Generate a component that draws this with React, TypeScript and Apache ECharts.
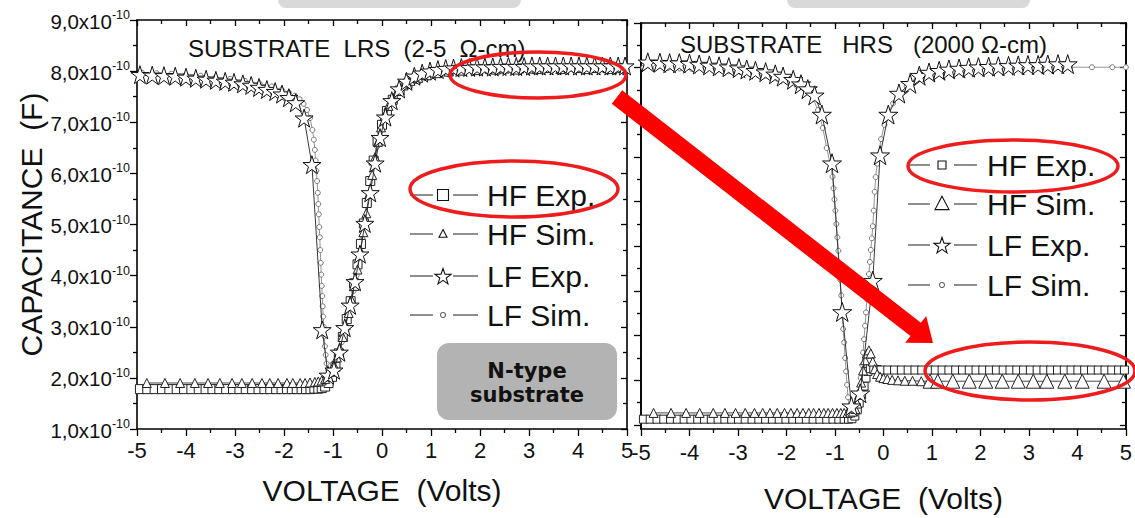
import React, { useEffect, useRef } from 'react';
import * as echarts from 'echarts';

const FONT = '"Liberation Sans", Arial, Helvetica, sans-serif';

// ---------- tick / label data ----------
const leftTitle = 'SUBSTRATE  LRS  (2-5  Ω-cm)';
const rightTitle = 'SUBSTRATE   HRS   (2000 Ω-cm)';
const legendNames = ['HF Exp.', 'HF Sim.', 'LF Exp.', 'LF Sim.'];
const legendSymbols = ['square', 'triangle', 'star', 'circle'];
const rightYMajor = [1, 2, 3, 4, 5, 6, 7, 8, 9, 10];
const rightYMinor = [1.5, 2.5, 3.5, 4.5, 5.5, 6.5, 7.5, 8.5, 9.5];

// ---------- LRS (left) data: [Volts, C x1e-10 F] ----------
const lrsHfExp: number[][] = [
  [-4.94, 1.78], [-4.79, 1.78], [-4.64, 1.78], [-4.49, 1.78], [-4.34, 1.78], [-4.19, 1.78], [-4.04, 1.78],
  [-3.89, 1.78], [-3.74, 1.78], [-3.6, 1.78], [-3.46, 1.78], [-3.32, 1.78], [-3.18, 1.78], [-3.04, 1.78],
  [-2.91, 1.78], [-2.78, 1.78], [-2.65, 1.78], [-2.52, 1.78], [-2.4, 1.78], [-2.28, 1.78], [-2.16, 1.78],
  [-2.05, 1.78], [-1.94, 1.78], [-1.84, 1.78], [-1.74, 1.78], [-1.64, 1.78], [-1.55, 1.78], [-1.46, 1.78],
  [-1.38, 1.79], [-1.3, 1.79], [-1.23, 1.8], [-1.16, 1.83], [-1.09, 1.9], [-1.02, 2.02], [-0.95, 2.22],
  [-0.88, 2.48], [-0.8, 2.8], [-0.72, 3.15], [-0.64, 3.5], [-0.57, 3.85], [-0.5, 4.22], [-0.43, 4.62],
  [-0.37, 5.02], [-0.31, 5.42], [-0.24, 5.85], [-0.17, 6.25], [-0.09, 6.62], [0.0, 6.95], [0.1, 7.22],
  [0.22, 7.44], [0.36, 7.62], [0.52, 7.75], [0.7, 7.85], [0.9, 7.92], [1.12, 7.97], [1.36, 8.0],
  [1.62, 8.02], [1.9, 8.03], [2.2, 8.04], [2.5, 8.05], [2.8, 8.05], [3.1, 8.05], [3.4, 8.06], [3.7, 8.06],
  [4.0, 8.06], [4.3, 8.06], [4.6, 8.06], [4.9, 8.06],
];
const lrsHfSim: number[][] = [
  [-4.8, 1.9], [-4.43, 1.9], [-4.12, 1.9], [-3.82, 1.9], [-3.55, 1.9], [-3.31, 1.9], [-3.06, 1.9],
  [-2.86, 1.9], [-2.65, 1.9], [-2.45, 1.9], [-2.29, 1.9], [-2.12, 1.9], [-1.94, 1.9], [-1.82, 1.9],
  [-1.67, 1.9], [-1.57, 1.9], [-1.47, 1.91], [-1.37, 1.92], [-1.3, 1.93], [-1.23, 1.95], [-1.16, 1.98],
  [-1.1, 2.03], [-1.04, 2.12], [-0.98, 2.25], [-0.92, 2.4], [-0.86, 2.58], [-0.8, 2.8], [-0.74, 3.03],
  [-0.68, 3.27], [-0.62, 3.52], [-0.56, 3.8], [-0.5, 4.12], [-0.44, 4.48], [-0.38, 4.85], [-0.32, 5.22],
  [-0.26, 5.6], [-0.2, 5.97], [-0.14, 6.32], [-0.08, 6.62], [-0.02, 6.9], [0.05, 7.12], [0.13, 7.32],
  [0.22, 7.48], [0.32, 7.61], [0.44, 7.72], [0.58, 7.81], [0.74, 7.87], [0.92, 7.92], [1.12, 7.96],
  [1.36, 7.99], [1.64, 8.01], [1.96, 8.02], [2.32, 8.03], [2.72, 8.03], [3.16, 8.04], [3.64, 8.04],
  [4.16, 8.04], [4.7, 8.04],
];
const lrsLfExp: number[][] = [
  [-4.94, 7.93], [-4.69, 7.92], [-4.45, 7.91], [-4.22, 7.9], [-4.0, 7.88], [-3.8, 7.86], [-3.59, 7.84],
  [-3.39, 7.82], [-3.2, 7.8], [-3.02, 7.78], [-2.84, 7.75], [-2.67, 7.72], [-2.51, 7.68], [-2.35, 7.64],
  [-2.18, 7.6], [-2.04, 7.55], [-1.9, 7.48], [-1.76, 7.38], [-1.59, 7.08], [-1.43, 6.17], [-1.22, 2.94],
  [-1.1, 2.05], [-0.98, 2.15], [-0.87, 2.5], [-0.76, 2.98], [-0.65, 3.42], [-0.55, 3.88], [-0.45, 4.42],
  [-0.35, 5.02], [-0.24, 5.62], [-0.14, 6.2], [-0.04, 6.7], [0.07, 7.1], [0.2, 7.42], [0.35, 7.65],
  [0.5, 7.8], [0.66, 7.9], [0.82, 7.96], [0.98, 8.0], [1.14, 8.03], [1.3, 8.05], [1.46, 8.06], [1.62, 8.07],
  [1.78, 8.07], [1.94, 8.08], [2.1, 8.08], [2.26, 8.08], [2.42, 8.09], [2.58, 8.09], [2.74, 8.09],
  [2.9, 8.09], [3.06, 8.1], [3.22, 8.1], [3.38, 8.1], [3.54, 8.1], [3.7, 8.1], [3.86, 8.1], [4.02, 8.1],
  [4.18, 8.1], [4.34, 8.1], [4.5, 8.1], [4.66, 8.1], [4.82, 8.1], [4.96, 8.1],
];
const lrsLfSim: number[][] = [
  [-4.9, 7.97], [-4.6, 7.96], [-4.3, 7.95], [-4.0, 7.93], [-3.7, 7.91], [-3.4, 7.88], [-3.1, 7.85],
  [-2.8, 7.81], [-2.5, 7.76], [-2.25, 7.7], [-2.05, 7.64], [-1.9, 7.58], [-1.78, 7.52], [-1.68, 7.45],
  [-1.6, 7.36], [-1.53, 7.24], [-1.47, 7.08], [-1.42, 6.85], [-1.39, 6.66], [-1.37, 6.46], [-1.355, 6.25],
  [-1.34, 6.05], [-1.325, 5.85], [-1.31, 5.62], [-1.3, 5.4], [-1.29, 5.2], [-1.28, 4.95], [-1.27, 4.75],
  [-1.26, 4.5], [-1.25, 4.25], [-1.24, 4.02], [-1.23, 3.8], [-1.22, 3.6], [-1.21, 3.4], [-1.2, 3.2],
  [-1.19, 3.0], [-1.18, 2.82], [-1.165, 2.62], [-1.15, 2.45], [-1.13, 2.28], [-1.1, 2.15], [-1.06, 2.12],
  [-1.0, 2.15], [-0.94, 2.3], [-0.88, 2.48], [-0.82, 2.7], [-0.76, 2.95], [-0.7, 3.2], [-0.64, 3.45],
  [-0.58, 3.7], [-0.52, 4.0], [-0.46, 4.38], [-0.4, 4.72], [-0.34, 5.1], [-0.28, 5.48], [-0.22, 5.86],
  [-0.16, 6.22], [-0.1, 6.52], [-0.04, 6.8], [0.03, 7.05], [0.11, 7.28], [0.2, 7.46], [0.3, 7.6],
  [0.42, 7.72], [0.56, 7.82], [0.72, 7.89], [0.9, 7.94], [1.1, 7.97], [1.35, 7.99], [1.65, 8.0],
  [2.0, 8.01], [2.4, 8.02], [2.85, 8.02], [3.35, 8.03], [3.9, 8.03], [4.45, 8.03], [5.0, 8.03],
];

// ---------- HRS (right) data: [Volts, C, own scale] ----------
const hrsHfExp: number[][] = [
  [-4.95, 1.13], [-4.81, 1.13], [-4.67, 1.13], [-4.53, 1.13], [-4.39, 1.13], [-4.25, 1.13], [-4.11, 1.13],
  [-3.97, 1.13], [-3.83, 1.13], [-3.69, 1.13], [-3.55, 1.13], [-3.41, 1.13], [-3.27, 1.13], [-3.13, 1.13],
  [-2.99, 1.13], [-2.85, 1.13], [-2.71, 1.13], [-2.57, 1.13], [-2.43, 1.13], [-2.29, 1.13], [-2.15, 1.13],
  [-2.01, 1.13], [-1.87, 1.13], [-1.73, 1.13], [-1.59, 1.13], [-1.45, 1.13], [-1.31, 1.13], [-1.17, 1.13],
  [-1.04, 1.13], [-0.92, 1.13], [-0.81, 1.13], [-0.72, 1.13], [-0.65, 1.14], [-0.59, 1.2], [-0.54, 1.34],
  [-0.5, 1.49], [-0.45, 1.68], [-0.4, 1.87], [-0.36, 2.05], [-0.32, 2.2], [-0.27, 2.26], [-0.2, 2.25],
  [-0.13, 2.24], [-0.05, 2.23], [0.09, 2.23], [0.23, 2.23], [0.37, 2.23], [0.51, 2.23], [0.65, 2.23],
  [0.79, 2.23], [0.93, 2.23], [1.07, 2.23], [1.21, 2.23], [1.35, 2.23], [1.49, 2.23], [1.63, 2.23],
  [1.77, 2.23], [1.91, 2.23], [2.05, 2.23], [2.19, 2.23], [2.33, 2.23], [2.47, 2.23], [2.61, 2.23],
  [2.75, 2.23], [2.89, 2.23], [3.03, 2.23], [3.17, 2.23], [3.31, 2.23], [3.45, 2.23], [3.59, 2.23],
  [3.73, 2.23], [3.87, 2.23], [4.01, 2.23], [4.15, 2.23], [4.29, 2.23], [4.43, 2.23], [4.57, 2.23],
  [4.71, 2.23], [4.85, 2.23], [4.97, 2.23],
];
const hrsHfSim: number[][] = [
  [-4.74, 1.27], [-4.38, 1.27], [-4.07, 1.27], [-3.79, 1.27], [-3.51, 1.27], [-3.27, 1.27], [-3.05, 1.27],
  [-2.85, 1.27], [-2.66, 1.27], [-2.49, 1.27], [-2.34, 1.27], [-2.19, 1.27], [-2.04, 1.27], [-1.91, 1.27],
  [-1.78, 1.27], [-1.66, 1.27], [-1.54, 1.27], [-1.44, 1.27], [-1.33, 1.27], [-1.23, 1.27], [-1.14, 1.27],
  [-1.05, 1.27], [-0.96, 1.27], [-0.88, 1.27], [-0.81, 1.27], [-0.74, 1.27], [-0.68, 1.28], [-0.63, 1.3],
  [-0.58, 1.36], [-0.54, 1.48], [-0.5, 1.68], [-0.46, 1.95], [-0.42, 2.22], [-0.38, 2.45], [-0.34, 2.6],
  [-0.3, 2.67], [-0.26, 2.6], [-0.22, 2.42], [-0.18, 2.25], [-0.13, 2.14], [-0.07, 2.08], [0.0, 2.05],
  [0.08, 2.03], [0.18, 2.01], [0.3, 2.0], [0.44, 1.99], [0.6, 1.99], [0.78, 1.98], [0.96, 1.98],
  [1.12, 1.98], [1.43, 1.98], [1.77, 1.98], [2.11, 1.98], [2.45, 1.98], [2.78, 1.98], [3.09, 1.98],
  [3.37, 1.98], [3.74, 1.98], [4.1, 1.98], [4.55, 1.98], [4.95, 1.98],
];
const hrsLfExp: number[][] = [
  [-4.86, 9.12], [-4.61, 9.11], [-4.41, 9.1], [-4.21, 9.1], [-4.0, 9.09], [-3.8, 9.07], [-3.59, 9.05],
  [-3.39, 9.03], [-3.19, 9.01], [-2.98, 8.99], [-2.82, 8.96], [-2.64, 8.93], [-2.43, 8.9], [-2.23, 8.85],
  [-2.07, 8.8], [-1.86, 8.73], [-1.7, 8.63], [-1.56, 8.52], [-1.42, 8.38], [-1.27, 7.95], [-1.06, 6.86],
  [-0.85, 3.53], [-0.66, 1.42], [-0.48, 1.71], [-0.22, 4.23], [-0.07, 7.04], [0.1, 7.95], [0.32, 8.42],
  [0.55, 8.64], [0.74, 8.82], [0.94, 8.89], [1.15, 8.93], [1.35, 8.96], [1.56, 8.98], [1.76, 9.0],
  [1.96, 9.01], [2.17, 9.02], [2.37, 9.03], [2.58, 9.04], [2.78, 9.05], [2.98, 9.06], [3.19, 9.06],
  [3.39, 9.07], [3.6, 9.08], [3.8, 9.08],
];
const hrsLfSim: number[][] = [
  [-4.95, 9.0], [-4.7, 9.0], [-4.45, 8.99], [-4.2, 8.98], [-3.95, 8.97], [-3.7, 8.96], [-3.45, 8.94],
  [-3.2, 8.92], [-2.95, 8.9], [-2.7, 8.86], [-2.45, 8.82], [-2.2, 8.76], [-1.98, 8.68], [-1.78, 8.58],
  [-1.6, 8.45], [-1.45, 8.3], [-1.35, 8.05], [-1.25, 7.65], [-1.17, 7.2], [-1.1, 6.85], [-1.05, 6.56],
  [-1.03, 6.3], [-1.01, 6.05], [-0.99, 5.8], [-0.97, 5.5], [-0.95, 5.2], [-0.93, 4.9], [-0.91, 4.56],
  [-0.89, 4.25], [-0.87, 3.9], [-0.85, 3.45], [-0.83, 3.15], [-0.81, 2.85], [-0.79, 2.5], [-0.77, 2.2],
  [-0.75, 1.9], [-0.73, 1.62], [-0.71, 1.38], [-0.68, 1.3], [-0.64, 1.27], [-0.6, 1.28], [-0.56, 1.35],
  [-0.53, 1.5], [-0.5, 1.75], [-0.47, 2.05], [-0.44, 2.34], [-0.42, 2.62], [-0.4, 2.92], [-0.38, 3.22],
  [-0.36, 3.52], [-0.34, 3.82], [-0.32, 4.1], [-0.3, 4.38], [-0.28, 4.65], [-0.26, 4.92], [-0.24, 5.18],
  [-0.22, 5.45], [-0.2, 5.8], [-0.18, 6.22], [-0.16, 6.55], [-0.13, 6.85], [-0.1, 7.05], [-0.05, 7.4],
  [0.02, 7.72], [0.1, 7.98], [0.2, 8.2], [0.32, 8.4], [0.48, 8.58], [0.68, 8.72], [0.9, 8.82],
  [1.2, 8.89], [1.55, 8.94], [1.95, 8.97], [2.4, 8.99], [2.9, 9.0], [3.4, 9.01], [3.85, 9.01],
  [4.3, 9.01], [4.72, 9.01], [5.0, 9.01],
];

const STAR = 'path://M50,0 L61.8,36.2 L100,36.2 L69.1,58.8 L80.9,95.1 L50,72.7 L19.1,95.1 L30.9,58.8 L0,36.2 L38.2,36.2 Z';

const axisLineStyle = { color: '#000', width: 1.6 };
const tickLine = { color: '#000', width: 1.3 };

function xAxisPair(gridIndex: number, nameGap: number, labelMargin: number) {
  const base = {
    gridIndex,
    type: 'value',
    min: -5,
    max: 5,
    interval: 1,
    splitLine: { show: false },
    axisLine: { show: true, onZero: false, lineStyle: axisLineStyle },
  };
  return [
    {
      ...base,
      position: 'bottom',
      axisTick: { show: true, inside: false, length: 7, lineStyle: tickLine },
      minorTick: { show: true, splitNumber: 2, length: 4, lineStyle: tickLine },
      axisLabel: { show: true, fontSize: 22, margin: labelMargin, color: '#111', fontFamily: FONT },
      name: 'VOLTAGE  (Volts)',
      nameLocation: 'middle',
      nameGap,
      nameTextStyle: { fontSize: 30, color: '#111', fontFamily: FONT },
    },
    {
      ...base,
      position: 'top',
      axisTick: { show: true, inside: true, length: 6, lineStyle: tickLine },
      minorTick: { show: true, splitNumber: 2, length: 4, lineStyle: tickLine },
      axisLabel: { show: false },
    },
  ];
}

function rightYAxis(position: string, values: number[], length: number, inside: boolean) {
  return {
    gridIndex: 1,
    type: 'value',
    position,
    min: 0.91,
    max: 10,
    splitLine: { show: false },
    axisLine: { show: true, onZero: false, lineStyle: axisLineStyle },
    axisTick: { show: true, inside, length, lineStyle: tickLine, customValues: values },
    axisLabel: { show: false },
  };
}

function lineSeries(
  name: string, data: number[][], grid: number, symbol: string, symbolSize: any,
  stroke: string, lineColor: string, z: number,
) {
  return {
    type: 'line',
    name,
    data,
    xAxisIndex: grid === 0 ? 0 : 2,
    yAxisIndex: grid === 0 ? 0 : 2,
    symbol,
    symbolSize,
    showSymbol: true,
    showAllSymbol: true,
    lineStyle: { color: lineColor, width: 0.9 },
    itemStyle: { color: '#fff', borderColor: stroke, borderWidth: 1 },
    emphasis: { disabled: true },
    silent: true,
    z,
  };
}

function starPoints(cx: number, cy: number, R: number) {
  const pts: number[][] = [];
  for (let k = 0; k < 10; k++) {
    const r = k % 2 === 0 ? R : R * 0.4;
    const a = (-90 + k * 36) * Math.PI / 180;
    pts.push([cx + r * Math.cos(a), cy + r * Math.sin(a)]);
  }
  return pts;
}

// legend drawn as graphic: line - symbol - line  text
function legendGraphic(x0: number, x1: number, symX: number, gap: number, textX: number, rows: number[], sizes: number[]) {
  const els: any[] = [];
  const stroke = { stroke: '#444', lineWidth: 1.2 };
  rows.forEach((cy, i) => {
    const s = sizes[i];
    els.push({ type: 'line', z: 40, shape: { x1: x0, y1: cy, x2: symX - gap, y2: cy }, style: stroke });
    els.push({ type: 'line', z: 40, shape: { x1: symX + gap, y1: cy, x2: x1, y2: cy }, style: stroke });
    const sym = legendSymbols[i];
    const st = { fill: '#fff', stroke: sym === 'circle' ? '#666' : '#111', lineWidth: 1.1 };
    if (sym === 'square') {
      els.push({ type: 'rect', z: 41, shape: { x: symX - s / 2, y: cy - s / 2, width: s, height: s }, style: st });
    } else if (sym === 'triangle') {
      els.push({ type: 'polygon', z: 41, shape: { points: [[symX, cy - s * 0.55], [symX + s / 2, cy + s * 0.4], [symX - s / 2, cy + s * 0.4]] }, style: st });
    } else if (sym === 'star') {
      els.push({ type: 'polygon', z: 41, shape: { points: starPoints(symX, cy + 1, s / 2) }, style: st });
    } else {
      els.push({ type: 'circle', z: 41, shape: { cx: symX, cy, r: s / 2 }, style: st });
    }
    els.push({
      type: 'text', z: 41,
      style: {
        text: legendNames[i], x: textX, y: cy, textVerticalAlign: 'middle', verticalAlign: 'middle',
        fontSize: 30, fontFamily: FONT, fill: '#111',
      },
    });
  });
  return els;
}

const RED = '#ee1c1c';

function buildOption() {
  return {
    animation: false,
    backgroundColor: '#fff',
    title: [
      { text: leftTitle, left: 188, top: 36, padding: 0, textStyle: { fontSize: 24, fontWeight: 'normal', color: '#111', fontFamily: FONT } },
      { text: rightTitle, left: 680, top: 32, padding: 0, textStyle: { fontSize: 24, fontWeight: 'normal', color: '#111', fontFamily: FONT } },
    ],
    grid: [
      { left: 137, top: 20, width: 490, height: 409, containLabel: false },
      { left: 641, top: 23, width: 491, height: 408, containLabel: false },
    ],
    xAxis: [...xAxisPair(0, 46, 10), ...xAxisPair(1, 54, 12)],
    yAxis: [
      {
        gridIndex: 0, type: 'value', position: 'left', min: 1, max: 9, interval: 1,
        splitLine: { show: false },
        axisLine: { show: true, onZero: false, lineStyle: axisLineStyle },
        axisTick: { show: true, inside: false, length: 7, lineStyle: tickLine },
        minorTick: { show: true, splitNumber: 2, length: 4, lineStyle: tickLine },
        axisLabel: {
          show: true, margin: 7,
          formatter: (v: number) => `{m|${v.toFixed(1).replace('.', ',')}x10}{s|-10}`,
          rich: {
            m: { fontSize: 20.5, fontFamily: FONT, color: '#111', lineHeight: 23, verticalAlign: 'bottom' },
            s: { fontSize: 12.5, fontFamily: FONT, color: '#111', lineHeight: 12, verticalAlign: 'top' },
          },
        },
        name: 'CAPACITANCE  (F)',
        nameLocation: 'middle',
        nameGap: 91,
        nameTextStyle: { fontSize: 30, color: '#111', fontFamily: FONT },
      },
      {
        gridIndex: 0, type: 'value', position: 'right', min: 1, max: 9, interval: 1,
        splitLine: { show: false },
        axisLine: { show: true, onZero: false, lineStyle: axisLineStyle },
        axisTick: { show: true, inside: true, length: 6, lineStyle: tickLine },
        minorTick: { show: true, splitNumber: 2, length: 4, lineStyle: tickLine },
        axisLabel: { show: false },
      },
      rightYAxis('left', rightYMajor, 7, false),
      rightYAxis('left', rightYMinor, 4, false),
      rightYAxis('right', rightYMajor, 6, true),
      rightYAxis('right', rightYMinor, 4, true),
    ],
    series: [
      lineSeries('LF Sim.', lrsLfSim, 0, 'circle', 5, '#777', '#888', 2),
      lineSeries('HF Exp.', lrsHfExp, 0, 'rect', 9, '#222', '#444', 3),
      lineSeries('HF Sim.', lrsHfSim, 0, 'triangle', 9, '#222', '#333', 4),
      lineSeries('LF Exp.', lrsLfExp, 0, STAR, 18, '#111', '#222', 5),
      lineSeries('LF Sim.', hrsLfSim, 1, 'circle', 5, '#777', '#888', 2),
      lineSeries('HF Exp.', hrsHfExp, 1, 'rect', 8, '#222', '#444', 3),
      lineSeries('HF Sim.', hrsHfSim, 1, 'triangle', (val: number[]) => (val[0] > 0.9 ? 14 : 9), '#222', '#333', 4),
      lineSeries('LF Exp.', hrsLfExp, 1, STAR, 19, '#111', '#222', 5),
    ],
    graphic: [
      { type: 'rect', shape: { x: 278, y: -10, width: 243, height: 18, r: 8 }, style: { fill: '#d9d9d9' }, z: 1 },
      { type: 'rect', shape: { x: 787, y: -10, width: 243, height: 18, r: 8 }, style: { fill: '#d9d9d9' }, z: 1 },
      ...legendGraphic(410, 478, 443, 10, 487, [195, 234, 276, 315], [11, 8, 17, 5]),
      ...legendGraphic(908, 977, 942, 12, 987, [165, 204, 245, 285], [8, 14, 17, 5]),
      { type: 'rect', shape: { x: 437, y: 343, width: 180, height: 77, r: 12 }, style: { fill: '#b3b3b3' }, z: 20 },
      {
        type: 'text', z: 21,
        style: { text: 'N-type', x: 527, y: 371, textAlign: 'center', textVerticalAlign: 'middle', align: 'center', verticalAlign: 'middle', fontSize: 21, fontWeight: 'bold', fontFamily: '"DejaVu Sans", Verdana, sans-serif', fill: '#111' },
      },
      {
        type: 'text', z: 21,
        style: { text: 'substrate', x: 527, y: 395, textAlign: 'center', textVerticalAlign: 'middle', align: 'center', verticalAlign: 'middle', fontSize: 21, fontWeight: 'bold', fontFamily: '"DejaVu Sans", Verdana, sans-serif', fill: '#111' },
      },
      { type: 'ellipse', z: 50, shape: { cx: 538, cy: 75, rx: 88, ry: 23 }, style: { fill: 'none', stroke: RED, lineWidth: 3.5 } },
      { type: 'ellipse', z: 50, shape: { cx: 514, cy: 189, rx: 104, ry: 28 }, style: { fill: 'none', stroke: RED, lineWidth: 3.5 } },
      { type: 'ellipse', z: 50, shape: { cx: 1013, cy: 166, rx: 105, ry: 26 }, style: { fill: 'none', stroke: RED, lineWidth: 3.5 } },
      { type: 'ellipse', z: 50, shape: { cx: 1030, cy: 371, rx: 105, ry: 29 }, style: { fill: 'none', stroke: RED, lineWidth: 3.5 } },
      {
        type: 'polygon', z: 51,
        shape: { points: [[622.2, 90.3], [920.9, 322.7], [926.2, 316.0], [933, 343], [905.2, 342.8], [910.5, 336.1], [611.8, 103.7]] },
        style: { fill: '#ff0000' },
      },
    ],
  };
}

export default function App() {
  const ref = useRef<HTMLDivElement>(null);
  useEffect(() => {
    if (!ref.current) return;
    const chart = echarts.init(ref.current, null, { renderer: 'svg' });
    chart.setOption(buildOption() as any);
    return () => chart.dispose();
  }, []);
  return (
    <div
      ref={ref}
      style={{ position: 'fixed', left: 0, top: 0, width: 1135, height: 518, background: '#fff' }}
    />
  );
}
